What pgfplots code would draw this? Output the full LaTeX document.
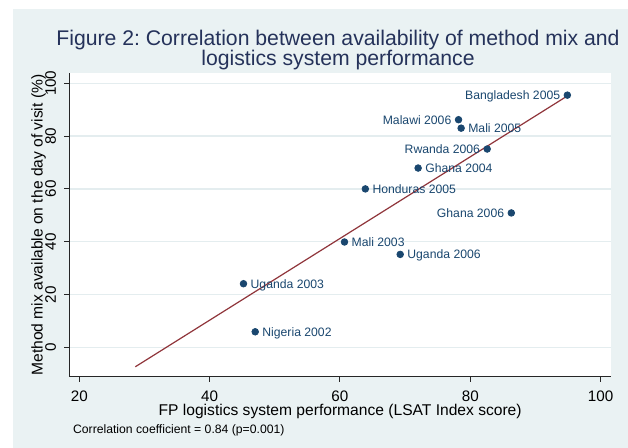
\documentclass[border=0pt]{standalone}
\usepackage{fontspec}
\setmainfont{Liberation Sans}
\usepackage{pgfplots}
\pgfplotsset{compat=1.18}
\definecolor{bgc}{HTML}{EAF2F3}
\definecolor{gridc}{HTML}{E4EDEF}
\definecolor{mk}{HTML}{1A476F}
\definecolor{fitc}{HTML}{90353B}
\definecolor{titc}{HTML}{25325A}
\frenchspacing
\begin{document}
\begin{tikzpicture}[x=0.5pt,y=0.5pt]
\path[use as bounding box] (0,0) rectangle (628,448);
\fill[white] (0,0) rectangle (628,448);
\fill[bgc] (12.7,0) rectangle (628,439);
\node[anchor=base, text=titc, font=\fontsize{10.6}{12}\selectfont, inner sep=0pt] at (338,402.3) {Figure 2: Correlation between availability of method mix and};
\node[anchor=base, text=titc, font=\fontsize{10.6}{12}\selectfont, inner sep=0pt] at (338,382.2) {logistics system performance};
\node[anchor=base west, font=\fontsize{6.1}{7}\selectfont, inner sep=0pt] at (72.7,14) {Correlation coefficient = 0.84 (p=0.001)};
\begin{axis}[
  at={(34.65pt,35.65pt)}, anchor=south west,
  scale only axis, width=270.85pt, height=151.6pt,
  xmin=18.47, xmax=101.6, ymin=-11.1, ymax=103.7,
  axis x line*=bottom, axis y line*=left,
  axis line style={-, black!85, line width=0.5pt},
  axis background/.style={fill=white},
  xtick={20,40,60,80,100}, ytick={0,20,40,60,80,100},
  tick align=outside, major tick length=2.5pt,
  tick style={black!85, line width=0.5pt},
  /pgf/number format/assume math mode=true,
  ticklabel style={font=\fontsize{7.6}{9}\selectfont},
  xticklabel style={anchor=north, inner sep=0pt},
  yticklabel style={rotate=90, anchor=south, inner sep=0pt},
  xticklabel shift=4.3pt, yticklabel shift=4pt,
  ymajorgrids, grid style={gridc, line width=0.7pt},
  xlabel={FP logistics system performance (LSAT Index score)},
  ylabel={Method mix available on the day of visit (\%)},
  label style={font=\fontsize{7.8}{9}\selectfont},
  xlabel style={at={(axis description cs:0.5,-0.128)}, anchor=base, inner sep=0pt},
  ylabel style={at={(axis description cs:-0.0569,0.5)}, anchor=center, inner sep=0pt},
  clip=false,
]
\addplot[fitc, line width=0.6pt, no marks] coordinates {(28.6,-7.35) (94.9,95.2)};
\addplot[only marks, mark=*, mark size=1.65pt, mk,
  point meta=explicit symbolic, nodes near coords,
  every node near coord/.style={anchor=base west, inner sep=0pt, xshift=3.4pt, yshift=-2.2pt, text=mk, font=\fontsize{6.1}{7}\selectfont}]
  table[col sep=comma, meta=label] {
x,y,label
78.6,83.0,Mali 2005
72.0,67.9,Ghana 2004
63.9,60.0,Honduras 2005
60.7,39.9,Mali 2003
69.25,35.2,Uganda 2006
45.2,24.1,Uganda 2003
47.0,5.9,Nigeria 2002
};
\addplot[only marks, mark=*, mark size=1.65pt, mk,
  point meta=explicit symbolic, nodes near coords,
  every node near coord/.style={anchor=base east, inner sep=0pt, xshift=-3.4pt, yshift=-2.2pt, text=mk, font=\fontsize{6.1}{7}\selectfont}]
  table[col sep=comma, meta=label] {
x,y,label
94.9,95.5,Bangladesh 2005
78.2,86.2,Malawi 2006
82.6,75.1,Rwanda 2006
86.3,50.9,Ghana 2006
};
\end{axis}
\end{tikzpicture}
\end{document}
